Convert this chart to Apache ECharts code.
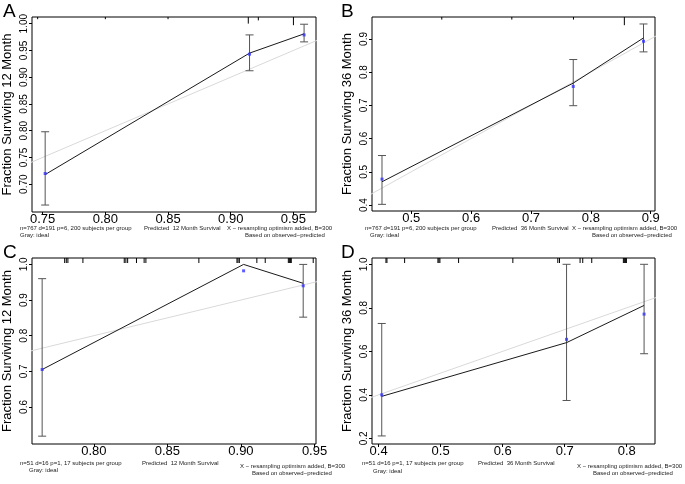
<html><head>
<meta charset="UTF-8">
<title>Calibration curves</title>
<script src="https://cdn.jsdelivr.net/npm/echarts@6/dist/echarts.min.js"></script>
<style>
  body { margin: 0; background: #fff; }
  #chart { width: 685px; height: 484px; }
</style>
</head>
<body>
<div id="chart"></div>
<script>
// panel A: 12 month, n=767
const predA = [0.752, 0.915, 0.9585];
const obsA = [0.718, 0.945, 0.981];
const corrA = [0.720, 0.943, 0.979];
const lowA = [0.661, 0.912, 0.966];
const highA = [0.798, 0.979, 0.999];
const rugA = [[0.746, 0.3], [0.80, 0.3], [0.85, 0.3], [0.914, 1.4], [0.922, 0.6], [0.95, 1.8]];
const xTicksA = [0.75, 0.80, 0.85, 0.90, 0.95];
const yTicksA = [0.70, 0.75, 0.80, 0.85, 0.90, 0.95, 1.00];

// panel B: 36 month, n=767
const predB = [0.4511, 0.7706, 0.888];
const obsB = [0.470, 0.767, 0.903];
const corrB = [0.478, 0.757, 0.893];
const lowB = [0.402, 0.699, 0.861];
const highB = [0.549, 0.838, 0.945];
const rugB = [[0.551, 0.4], [0.668, 0.4], [0.771, 0.4], [0.856, 1.8]];
const xTicksB = [0.5, 0.6, 0.7, 0.8, 0.9];
const yTicksB = [0.4, 0.5, 0.6, 0.7, 0.8, 0.9];

// panel C: 12 month, n=51
const predC = [0.7649, 0.9018, 0.9423];
const obsC = [0.705, 1.0, 0.947];
const corrC = [0.705, 0.982, 0.940];
const lowC = [0.518, null, 0.852];
const highC = [0.960, null, 1.0];
const rugC = [0.7802, 0.7813, 0.7824, 0.7926, 0.8207, 0.8218, 0.823, 0.829, 0.8342, 0.8354,
  0.8714, 0.8973, 0.898, 0.8989, 0.9108, 0.9165, 0.9322, 0.9329, 0.9336, 0.9342, 0.9491].map(v => [v, 1]);
const xTicksC = [0.80, 0.85, 0.90, 0.95];
const yTicksC = [0.6, 0.7, 0.8, 0.9, 1.0];

// panel D: 36 month, n=51
const predD = [0.405, 0.703, 0.828];
const obsD = [0.393, 0.640, 0.811];
const corrD = [0.400, 0.655, 0.771];
const lowD = [0.211, 0.374, 0.589];
const highD = [0.728, 1.0, 1.0];
const rugD = [0.4118, 0.4134, 0.4419, 0.4956, 0.4972, 0.4988, 0.5289, 0.6164, 0.6889, 0.6916,
  0.7248, 0.7291, 0.7436, 0.7946, 0.7962, 0.7979, 0.7995].map(v => [v, 1]);
const xTicksD = [0.4, 0.5, 0.6, 0.7, 0.8];
const yTicksD = [0.2, 0.4, 0.6, 0.8, 1.0];

const panels = [
  { pred: predA, obs: obsA, corr: corrA, low: lowA, high: highA, rug: rugA,
    xt: xTicksA, yt: yTicksA, xr: [0.7415, 0.968], yr: [0.648, 1.0125], dec: 2,
    ytitle: 'Fraction Surviving 12 Month',
    grid: { left: 32, top: 17, width: 284, height: 195 } },
  { pred: predB, obs: obsB, corr: corrB, low: lowB, high: highB, rug: rugB,
    xt: xTicksB, yt: yTicksB, xr: [0.4344, 0.9072], yr: [0.382, 0.966], dec: 1,
    ytitle: 'Fraction Surviving 36 Month',
    grid: { left: 372, top: 17, width: 283, height: 194 } },
  { pred: predC, obs: obsC, corr: corrC, low: lowC, high: highC, rug: rugC,
    xt: xTicksC, yt: yTicksC, xr: [0.758, 0.951], yr: [0.496, 1.018], dec: 2, ydec: 1,
    ytitle: 'Fraction Surviving 12 Month',
    grid: { left: 32, top: 258, width: 284, height: 186 } },
  { pred: predD, obs: obsD, corr: corrD, low: lowD, high: highD, rug: rugD,
    xt: xTicksD, yt: yTicksD, xr: [0.3893, 0.8456], yr: [0.174, 1.029], dec: 1,
    ytitle: 'Fraction Surviving 36 Month',
    grid: { left: 372, top: 258, width: 283, height: 186 } }
];

const FONT = 'Liberation Sans, Arial, sans-serif';

const grids = [], xAxes = [], yAxes = [], series = [];
panels.forEach((p, i) => {
  grids.push(Object.assign({ show: true, borderColor: '#000', borderWidth: 1, backgroundColor: '#fff' }, p.grid));
  xAxes.push({
    type: 'value', gridIndex: i, min: p.xr[0], max: p.xr[1],
    axisLine: { show: false }, splitLine: { show: false },
    axisTick: { show: true, length: 3, customValues: p.xt, lineStyle: { color: '#000' } },
    axisLabel: { customValues: p.xt, margin: 1, fontSize: 13, color: '#000', fontFamily: FONT,
      formatter: v => v.toFixed(p.dec) }
  });
  yAxes.push({
    type: 'value', gridIndex: i, min: p.yr[0], max: p.yr[1],
    name: p.ytitle, nameLocation: 'middle', nameGap: 18, nameRotate: 90,
    nameTextStyle: { fontSize: 13, color: '#000', fontFamily: FONT },
    axisLine: { show: false }, splitLine: { show: false },
    axisTick: { show: true, length: 3, customValues: p.yt, lineStyle: { color: '#000' } },
    axisLabel: { customValues: p.yt, rotate: 90, margin: 3, fontSize: 10, color: '#000', fontFamily: FONT,
      formatter: v => v.toFixed(p.ydec !== undefined ? p.ydec : p.dec) }
  });
  // ideal line (gray)
  series.push({
    type: 'line', xAxisIndex: i, yAxisIndex: i, data: [[0, 0], [1, 1]], clip: true,
    symbol: 'none', lineStyle: { color: '#d9d9d9', width: 1 }, silent: true, z: 1
  });
  // rug of predicted values along the top
  series.push({
    type: 'custom', xAxisIndex: i, yAxisIndex: i, data: p.rug, clip: true, z: 2,
    renderItem: (params, api) => {
      const pt = api.coord([api.value(0), p.yr[1]]);
      const top = params.coordSys.y;
      return { type: 'line', shape: { x1: pt[0], y1: top, x2: pt[0], y2: top + 1 + api.value(1) * 4 },
        style: { stroke: '#000', lineWidth: 1 } };
    }
  });
  // error bars
  const bars = p.pred.map((x, k) => [x, p.low[k], p.high[k]]).filter(d => d[1] !== null);
  series.push({
    type: 'custom', xAxisIndex: i, yAxisIndex: i, data: bars, z: 3,
    renderItem: (params, api) => {
      const lo = api.coord([api.value(0), api.value(1)]);
      const hi = api.coord([api.value(0), api.value(2)]);
      const st = { stroke: '#555', lineWidth: 1 };
      return { type: 'group', children: [
        { type: 'line', shape: { x1: lo[0], y1: lo[1], x2: hi[0], y2: hi[1] }, style: st },
        { type: 'line', shape: { x1: lo[0] - 4, y1: lo[1], x2: lo[0] + 4, y2: lo[1] }, style: st },
        { type: 'line', shape: { x1: hi[0] - 4, y1: hi[1], x2: hi[0] + 4, y2: hi[1] }, style: st }
      ] };
    }
  });
  // observed calibration curve
  series.push({
    type: 'line', xAxisIndex: i, yAxisIndex: i, data: p.pred.map((x, k) => [x, p.obs[k]]),
    symbol: 'none', lineStyle: { color: '#1a1a1a', width: 1 }, z: 4
  });
  // bias-corrected points
  series.push({
    type: 'scatter', xAxisIndex: i, yAxisIndex: i, data: p.pred.map((x, k) => [x, p.corr[k]]),
    symbol: 'rect', symbolSize: 3, itemStyle: { color: '#3333ff' }, z: 5
  });
});

const subStyle = { fontSize: 6, fill: '#222', fontFamily: FONT };
function txt(x, y, s) {
  return { type: 'text', x: x, y: y, style: Object.assign({ text: s, align: 'left', verticalAlign: 'middle' }, subStyle) };
}
function letter(x, y, s) {
  return { type: 'text', x: x, y: y, style: { text: s, fontSize: 19, fill: '#000', fontFamily: FONT } };
}

const graphics = [
  letter(3, 2, 'A'), letter(341, 2, 'B'), letter(3, 243, 'C'), letter(341, 243, 'D'),
  txt(20, 228, 'n=767 d=191 p=6, 200 subjects per group'),
  txt(144, 228, 'Predicted  12 Month Survival'),
  txt(227, 228, 'X \u2212 resampling optimism added, B=300'),
  txt(20, 235, 'Gray: ideal'),
  txt(245, 235, 'Based on observed\u2212predicted'),
  txt(365, 228, 'n=767 d=191 p=6, 200 subjects per group'),
  txt(492, 228, 'Predicted  36 Month Survival'),
  txt(572, 228, 'X \u2212 resampling optimism added, B=300'),
  txt(370, 235, 'Gray: ideal'),
  txt(592, 235, 'Based on observed\u2212predicted'),
  txt(20, 463, 'n=51 d=16 p=1, 17 subjects per group'),
  txt(142, 463, 'Predicted  12 Month Survival'),
  txt(240, 466, 'X \u2212 resampling optimism added, B=300'),
  txt(29, 470, 'Gray: ideal'),
  txt(252, 473, 'Based on observed\u2212predicted'),
  txt(362, 463, 'n=51 d=16 p=1, 17 subjects per group'),
  txt(478, 463, 'Predicted  36 Month Survival'),
  txt(577, 466, 'X \u2212 resampling optimism added, B=300'),
  txt(373, 471, 'Gray: ideal'),
  txt(593, 473, 'Based on observed\u2212predicted')
];

const chart = echarts.init(document.getElementById('chart'), null, { renderer: 'canvas' });
chart.setOption({
  animation: false,
  backgroundColor: '#fff',
  grid: grids, xAxis: xAxes, yAxis: yAxes, series: series,
  graphic: graphics
});
</script>
</body></html>
